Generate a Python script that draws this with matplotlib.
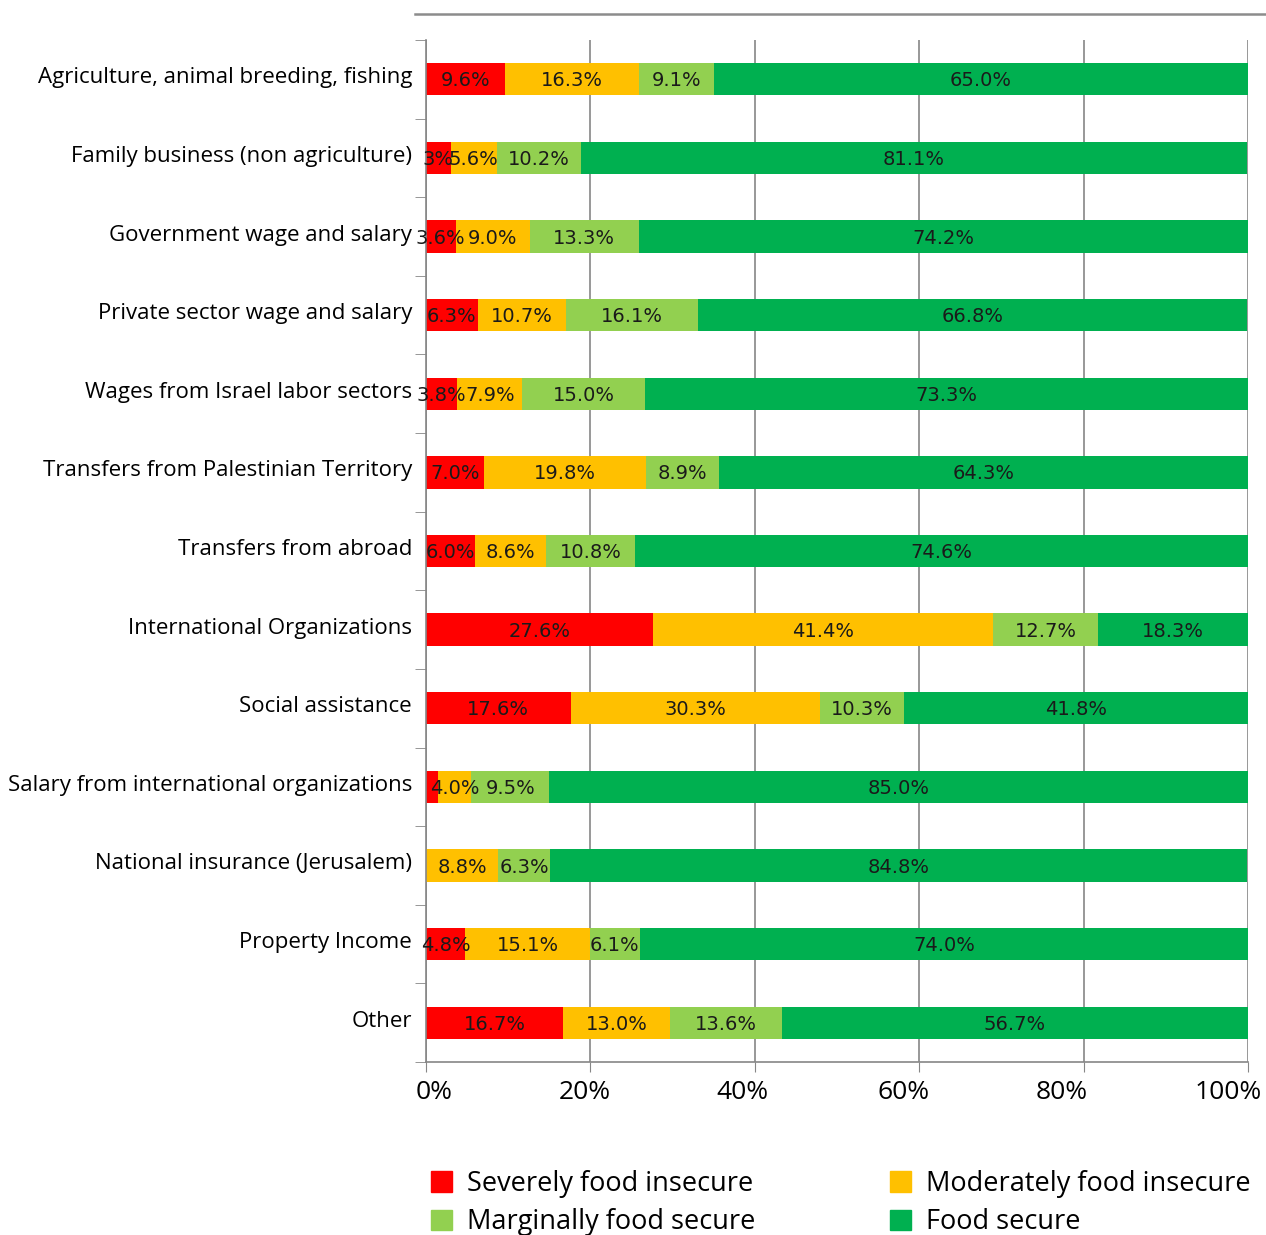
import numpy as np
import matplotlib.pyplot as plt
from matplotlib.lines import Line2D
from matplotlib.patches import Patch
from matplotlib.transforms import ScaledTranslation

# Share of households by food security level, per main income source (%)
categories = [
    "Agriculture, animal breeding, fishing",
    "Family business (non agriculture)",
    "Government wage and salary",
    "Private sector wage and salary",
    "Wages from Israel labor sectors",
    "Transfers from Palestinian Territory",
    "Transfers from abroad",
    "International Organizations",
    "Social assistance",
    "Salary from international organizations",
    "National insurance (Jerusalem)",
    "Property Income",
    "Other",
]
severe = [9.6, 3.0, 3.6, 6.3, 3.8, 7.0, 6.0, 27.6, 17.6, 1.5, 0.0, 4.8, 16.7]
moderate = [16.3, 5.6, 9.0, 10.7, 7.9, 19.8, 8.6, 41.4, 30.3, 4.0, 8.8, 15.1, 13.0]
marginal = [9.1, 10.2, 13.3, 16.1, 15.0, 8.9, 10.8, 12.7, 10.3, 9.5, 6.3, 6.1, 13.6]
secure = [65.0, 81.1, 74.2, 66.8, 73.3, 64.3, 74.6, 18.3, 41.8, 85.0, 84.8, 74.0, 56.7]

series_names = ["Severely food insecure", "Moderately food insecure",
                "Marginally food secure", "Food secure"]
colors = ["#FF0000", "#FFC000", "#92D050", "#00B050"]

fig = plt.figure(figsize=(12.66, 12.35), dpi=100)
ax = fig.add_axes([426 / 1266, 1 - 1062 / 1235, 822 / 1266, 1022 / 1235])

y = np.arange(len(categories))
left = np.zeros(len(categories))
for vals, color in zip([severe, moderate, marginal, secure], colors):
    vals = np.array(vals)
    ax.barh(y, vals, left=left, height=0.41, color=color, zorder=2)
    for yi, l, v in zip(y, left, vals):
        # tiny slices carry no label
        if v < 2.5:
            continue
        txt = "3%" if v == 3.0 else f"{v:.1f}%"
        ax.text(l + v / 2, yi + 0.02, txt, ha="center", va="center",
                fontsize=14, color="#1a1a1a", family="DejaVu Sans", zorder=3)
    left += vals

ax.set_xlim(0, 100)
ax.set_ylim(len(categories) - 0.5, -0.5)
ax.set_xticks(np.arange(0, 101, 20))
ax.set_xticklabels([f"{v}%" for v in range(0, 101, 20)],
                   fontsize=19, family="Open Sans")
ax.tick_params(axis="x", length=7, color="#868686", pad=6)
# percent labels sit a little left of their ticks
shifts = [8, -6, -12, -16, -22, -20]
for lab, dx in zip(ax.get_xticklabels(), shifts):
    lab.set_transform(lab.get_transform() +
                      ScaledTranslation(dx / 100, 0, fig.dpi_scale_trans))
ax.grid(axis="x", color="#868686", lw=1.2, zorder=0)

ax.set_yticks(y)
ax.set_yticklabels(categories, fontsize=16, family="Open Sans")
ax.tick_params(axis="y", which="major", length=0, pad=10)
ax.set_yticks(np.arange(-0.5, len(categories)), minor=True)
ax.tick_params(axis="y", which="minor", length=8, color="#868686")
for lab in ax.get_yticklabels():
    lab.set_transform(lab.get_transform() +
                      ScaledTranslation(0, 4 / 100, fig.dpi_scale_trans))

for s in ["top", "right"]:
    ax.spines[s].set_visible(False)
for s in ["left", "bottom"]:
    ax.spines[s].set_color("#868686")
    ax.spines[s].set_linewidth(1.2)

# rule above the plot
fig.add_artist(Line2D([415 / 1266, 1265 / 1266], [1 - 14 / 1235] * 2,
                      color="#8c8c8c", lw=1.8))

order = [0, 2, 1, 3]
handles = [Patch(color=colors[i]) for i in order]
fig.legend(handles, [series_names[i] for i in order], ncol=2,
           loc="lower left", bbox_to_anchor=(417 / 1266, -15 / 1235),
           frameon=False, handlelength=0.8, handleheight=0.8,
           handletextpad=0.55, columnspacing=4.95, labelspacing=0.38,
           borderpad=0.0, prop={"family": "Open Sans", "size": 19.5})

fig.savefig("out.png", dpi=100)
